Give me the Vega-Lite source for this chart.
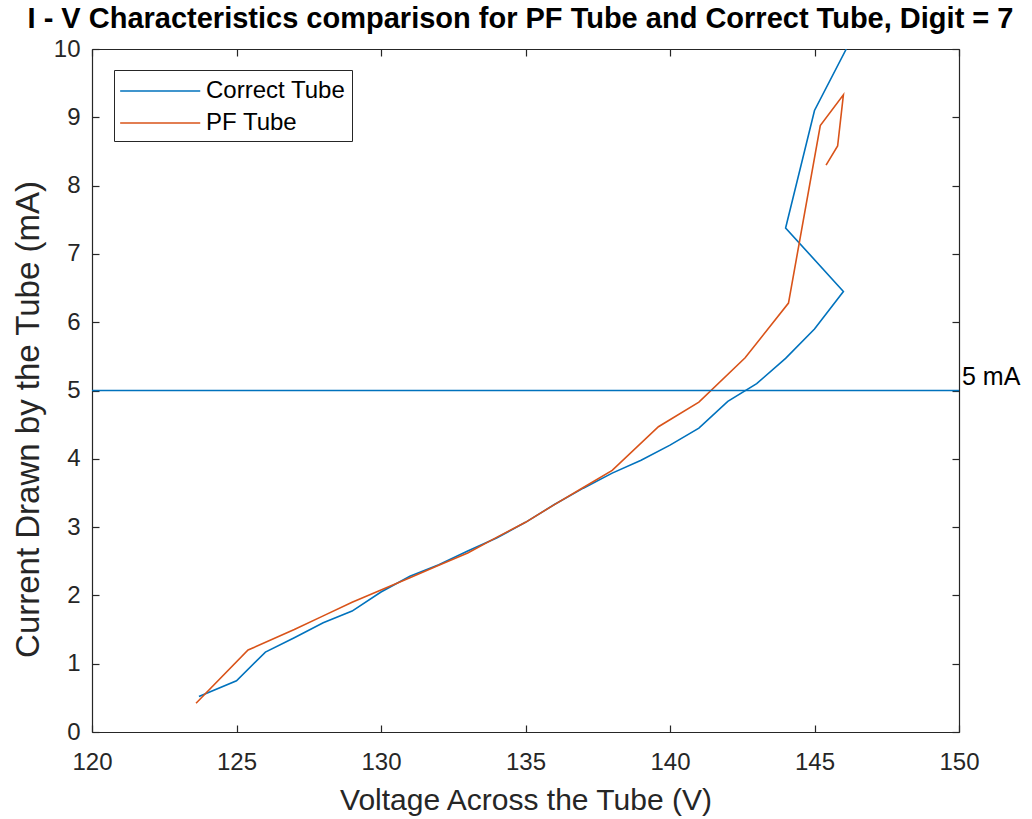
{
  "$schema": "https://vega.github.io/schema/vega-lite/v6.json",
  "width": 867,
  "height": 683,
  "autosize": {"type": "none"},
  "padding": {"left": 92, "top": 49, "right": 73, "bottom": 87},
  "background": "white",
  "config": {
    "font": "Liberation Sans",
    "view": {"stroke": null},
    "axis": {
      "grid": false,
      "domainColor": "#262626",
      "tickColor": "#262626",
      "labelColor": "#262626",
      "titleColor": "#262626",
      "labelFont": "Liberation Sans",
      "titleFont": "Liberation Sans",
      "labelFontSize": 24,
      "titleFontSize": 30,
      "titleFontWeight": "normal",
      "labelFlush": false,
      "tickSize": -7,
      "domainWidth": 1.2,
      "tickWidth": 1.2
    }
  },
  "title": {
    "text": "I - V Characteristics comparison for PF Tube and Correct Tube, Digit = 7",
    "font": "Liberation Sans",
    "fontSize": 29,
    "fontWeight": "bold",
    "color": "#000000",
    "anchor": "middle",
    "dx": -5,
    "offset": 3
  },
  "data": {
    "values": [
      {"series": "Correct Tube", "order": 1, "V": 123.7, "I": 0.52},
      {"series": "Correct Tube", "order": 2, "V": 125.0, "I": 0.75},
      {"series": "Correct Tube", "order": 3, "V": 126.0, "I": 1.17},
      {"series": "Correct Tube", "order": 4, "V": 127.0, "I": 1.38},
      {"series": "Correct Tube", "order": 5, "V": 128.0, "I": 1.6},
      {"series": "Correct Tube", "order": 6, "V": 129.0, "I": 1.77},
      {"series": "Correct Tube", "order": 7, "V": 130.0, "I": 2.05},
      {"series": "Correct Tube", "order": 8, "V": 131.0, "I": 2.28},
      {"series": "Correct Tube", "order": 9, "V": 132.0, "I": 2.45},
      {"series": "Correct Tube", "order": 10, "V": 133.0, "I": 2.65},
      {"series": "Correct Tube", "order": 11, "V": 134.0, "I": 2.84},
      {"series": "Correct Tube", "order": 12, "V": 135.0, "I": 3.07},
      {"series": "Correct Tube", "order": 13, "V": 136.0, "I": 3.33},
      {"series": "Correct Tube", "order": 14, "V": 137.0, "I": 3.57},
      {"series": "Correct Tube", "order": 15, "V": 138.0, "I": 3.79},
      {"series": "Correct Tube", "order": 16, "V": 139.0, "I": 3.98},
      {"series": "Correct Tube", "order": 17, "V": 140.0, "I": 4.2},
      {"series": "Correct Tube", "order": 18, "V": 141.0, "I": 4.45},
      {"series": "Correct Tube", "order": 19, "V": 142.0, "I": 4.84},
      {"series": "Correct Tube", "order": 20, "V": 143.0, "I": 5.1},
      {"series": "Correct Tube", "order": 21, "V": 144.0, "I": 5.47},
      {"series": "Correct Tube", "order": 22, "V": 145.0, "I": 5.9},
      {"series": "Correct Tube", "order": 23, "V": 146.0, "I": 6.45},
      {"series": "Correct Tube", "order": 24, "V": 144.0, "I": 7.38},
      {"series": "Correct Tube", "order": 25, "V": 145.0, "I": 9.1},
      {"series": "Correct Tube", "order": 26, "V": 146.1, "I": 10.0},
      {"series": "PF Tube", "order": 1, "V": 123.6, "I": 0.42},
      {"series": "PF Tube", "order": 2, "V": 125.4, "I": 1.2},
      {"series": "PF Tube", "order": 3, "V": 127.0, "I": 1.5},
      {"series": "PF Tube", "order": 4, "V": 128.0, "I": 1.7},
      {"series": "PF Tube", "order": 5, "V": 129.0, "I": 1.9},
      {"series": "PF Tube", "order": 6, "V": 130.0, "I": 2.08},
      {"series": "PF Tube", "order": 7, "V": 131.0, "I": 2.26},
      {"series": "PF Tube", "order": 8, "V": 132.0, "I": 2.44},
      {"series": "PF Tube", "order": 9, "V": 133.0, "I": 2.62},
      {"series": "PF Tube", "order": 10, "V": 134.0, "I": 2.85},
      {"series": "PF Tube", "order": 11, "V": 135.0, "I": 3.07},
      {"series": "PF Tube", "order": 12, "V": 136.0, "I": 3.33},
      {"series": "PF Tube", "order": 13, "V": 137.0, "I": 3.58},
      {"series": "PF Tube", "order": 14, "V": 138.0, "I": 3.83},
      {"series": "PF Tube", "order": 15, "V": 139.6, "I": 4.47},
      {"series": "PF Tube", "order": 16, "V": 141.0, "I": 4.83},
      {"series": "PF Tube", "order": 17, "V": 142.6, "I": 5.48},
      {"series": "PF Tube", "order": 18, "V": 144.1, "I": 6.28},
      {"series": "PF Tube", "order": 19, "V": 145.2, "I": 8.88},
      {"series": "PF Tube", "order": 20, "V": 146.0, "I": 9.33},
      {"series": "PF Tube", "order": 21, "V": 145.8, "I": 8.58},
      {"series": "PF Tube", "order": 22, "V": 145.4, "I": 8.3}
    ]
  },
  "layer": [
    {
      "mark": {"type": "line", "strokeWidth": 1.6, "clip": true},
      "encoding": {
        "x": {
          "field": "V", "type": "quantitative",
          "scale": {"domain": [120, 150], "nice": false, "zero": false},
          "axis": {"title": "Voltage Across the Tube (V)", "values": [120, 125, 130, 135, 140, 145, 150], "labelPadding": 25, "titlePadding": 11}
        },
        "y": {
          "field": "I", "type": "quantitative",
          "scale": {"domain": [0, 10], "nice": false},
          "axis": {"title": "Current Drawn by the Tube (mA)", "values": [0, 1, 2, 3, 4, 5, 6, 7, 8, 9, 10], "labelPadding": 19, "titlePadding": 8, "titleFontSize": 33, "titleY": 370}
        },
        "order": {"field": "order", "type": "quantitative"},
        "color": {
          "field": "series", "type": "nominal",
          "scale": {"domain": ["Correct Tube", "PF Tube"], "range": ["#0072BD", "#D95319"]},
          "legend": {
            "title": null,
            "orient": "none",
            "legendX": 22,
            "legendY": 21,
            "symbolType": "M-1.06,0H4.66",
            "symbolSize": 784,
            "symbolStrokeWidth": 1.6,
            "labelFontSize": 24,
            "labelFont": "Liberation Sans",
            "labelColor": "#000000",
            "labelOffset": 56,
            "rowPadding": 5,
            "strokeColor": "#262626",
            "fillColor": "white",
            "padding": 6
          }
        }
      }
    },
    {
      "data": {"values": [{"label": "5 mA"}]},
      "mark": {"type": "rule", "color": "#0072BD", "strokeWidth": 1.6},
      "encoding": {"y": {"datum": 5, "axis": null}}
    },
    {
      "data": {"values": [{"label": "5 mA"}]},
      "mark": {"type": "text", "align": "left", "baseline": "alphabetic", "dx": 3, "dy": -6, "fontSize": 25, "color": "#000000", "font": "Liberation Sans"},
      "encoding": {"x": {"datum": 150, "axis": null}, "y": {"datum": 5, "axis": null}, "text": {"field": "label"}}
    },
    {
      "mark": {"type": "point", "opacity": 0},
      "encoding": {
        "x": {"field": "V", "type": "quantitative", "scale": {"domain": [120, 150], "nice": false, "zero": false},
          "axis": {"orient": "top", "title": null, "labels": false, "values": [120, 125, 130, 135, 140, 145, 150]}},
        "y": {"field": "I", "type": "quantitative", "scale": {"domain": [0, 10], "nice": false},
          "axis": {"orient": "right", "title": null, "labels": false, "values": [0, 1, 2, 3, 4, 5, 6, 7, 8, 9, 10]}}
      }
    }
  ],
  "resolve": {"axis": {"x": "independent", "y": "independent"}}
}
